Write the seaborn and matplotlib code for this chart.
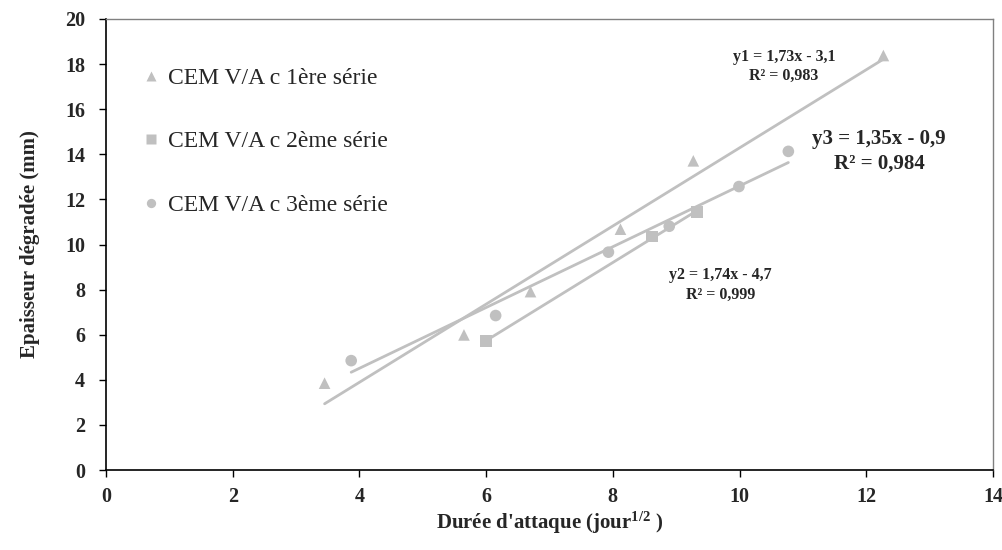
import numpy as np
import pandas as pd
import matplotlib
matplotlib.use("Agg")
import matplotlib.pyplot as plt
import seaborn as sns

# valeurs
x1 = [3.45, 5.65, 6.70, 8.12, 9.27, 12.27]
y1 = [3.85, 5.99, 7.91, 10.68, 13.71, 18.38]
x2 = [6.00, 8.62, 9.33]
y2 = [5.72, 10.36, 11.44]
x3 = [3.87, 6.15, 7.93, 8.89, 9.99, 10.77]
y3 = [4.85, 6.85, 9.66, 10.81, 12.57, 14.13]
series = ["CEM V/A c 1ère série", "CEM V/A c 2ème série", "CEM V/A c 3ème série"]
equations = ["y1 = 1,73x - 3,1\nR² = 0,983",
             "y2 = 1,74x - 4,7\nR² = 0,999",
             "y3 = 1,35x - 0,9\nR² = 0,984"]

df = pd.DataFrame({
    "x": x1 + x2 + x3,
    "y": y1 + y2 + y3,
    "serie": [series[0]] * len(x1) + [series[1]] * len(x2) + [series[2]] * len(x3),
})

sns.set_style("white")
plt.rcParams["font.family"] = ["Liberation Serif", "DejaVu Serif"]
plt.rcParams["mathtext.fontset"] = "custom"
plt.rcParams["mathtext.rm"] = "Liberation Serif:bold"
plt.rcParams["mathtext.it"] = "Liberation Serif:bold"
plt.rcParams["mathtext.bf"] = "Liberation Serif:bold"

grey = "#c0c0c0"
fig = plt.figure(figsize=(10.02, 5.5), dpi=100)
ax = fig.add_axes([106 / 1002, 1 - 470 / 550, 887 / 1002, 451 / 550])

for s in series:
    sub = df[df["serie"] == s]
    sns.regplot(data=sub, x="x", y="y", ax=ax, scatter=False, ci=None,
                truncate=True, color=grey, line_kws={"lw": 2})

sns.scatterplot(data=df, x="x", y="y", style="serie",
                markers={series[0]: "^", series[1]: "s", series[2]: "o"},
                color=grey, s=70, edgecolor="none", ax=ax, zorder=3)

ax.set_xlim(0, 14)
ax.set_ylim(0, 20)
ax.set_xticks(range(0, 15, 2))
ax.set_yticks(range(0, 21, 2))
for lab in ax.get_xticklabels() + ax.get_yticklabels():
    lab.set_fontweight("bold")
    lab.set_fontsize(14.5)
ax.tick_params(direction="out", length=5, width=1, color="black",
               bottom=True, left=True)
ax.tick_params(axis="y", pad=10)
ax.tick_params(axis="x", pad=7)

ax.set_xlabel(r"Durée d'attaque (jour$^{1/2}$ )", fontsize=15,
              fontweight="bold", labelpad=2)
ax.set_ylabel("Epaisseur dégradée (mm)", fontsize=15,
              fontweight="bold", labelpad=18)

for side in ["left", "bottom"]:
    ax.spines[side].set_color("black")
    ax.spines[side].set_linewidth(1.2)
for side in ["top", "right"]:
    ax.spines[side].set_color("#808080")
    ax.spines[side].set_linewidth(1)

ax.text(10.7, 17.9, equations[0], ha="center", va="center",
        fontsize=11.5, fontweight="bold", linespacing=1.3)
ax.text(9.7, 8.2, equations[1], ha="center", va="center",
        fontsize=11.5, fontweight="bold", linespacing=1.3)
ax.text(12.2, 14.15, equations[2], ha="center", va="center",
        fontsize=15, fontweight="bold", linespacing=1.3)

handles, labels = ax.get_legend_handles_labels()
ax.legend(handles, labels, loc="upper left", bbox_to_anchor=(0.015, 0.94),
          frameon=False, fontsize=17, labelspacing=1.78, handletextpad=0.25,
          markerscale=0.8, handlelength=0.9)

fig.savefig("out.png", dpi=100)
